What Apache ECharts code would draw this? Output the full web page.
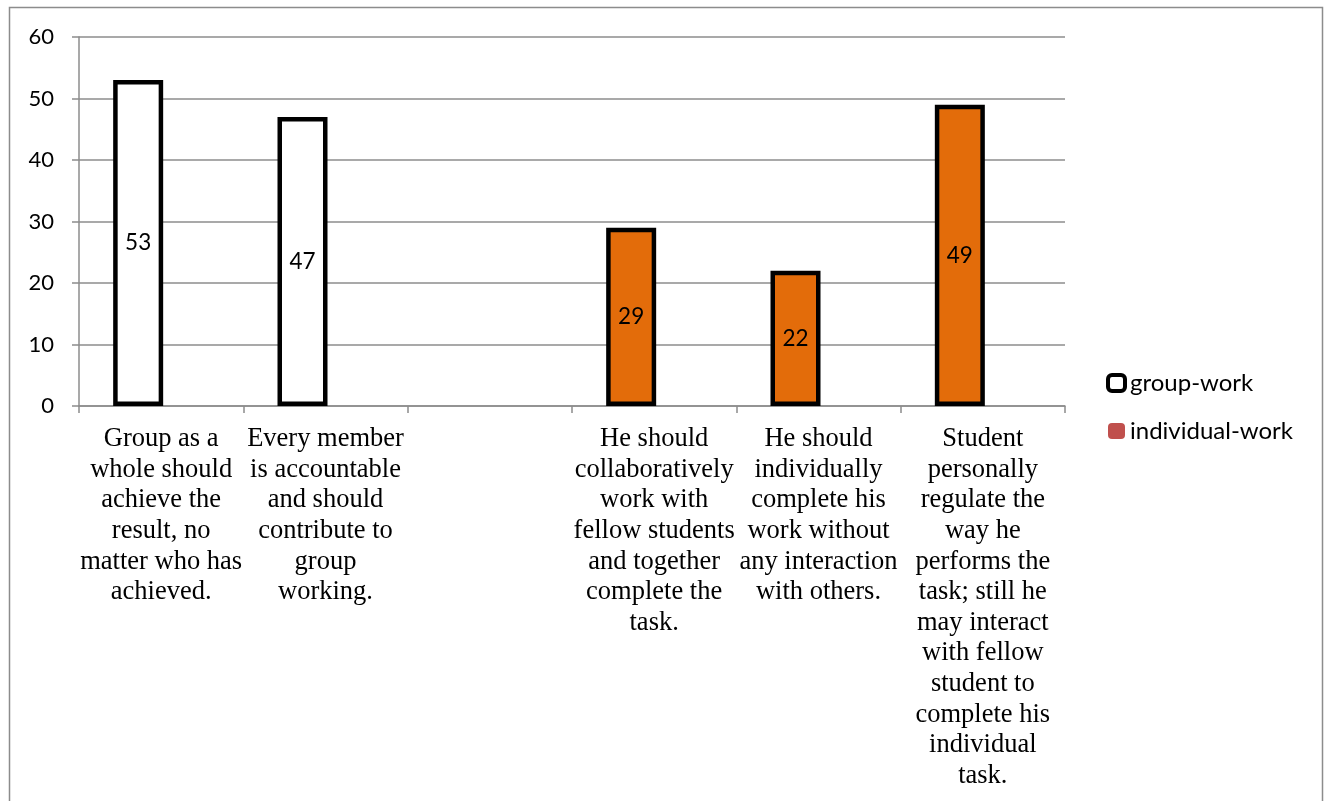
<!DOCTYPE html>
<html>
<head>
<meta charset="utf-8">
<script src="https://cdn.jsdelivr.net/npm/echarts@6/dist/echarts.min.js"></script>
<style>
  html, body { margin: 0; padding: 0; background: #fff; }
  #chart { width: 1329px; height: 801px; }
</style>
</head>
<body>
<div id="chart"></div>
<script>
// categories (line breaks as in the original chart)
const categories = [
    "Group as a\nwhole should\nachieve the\nresult, no\nmatter who has\nachieved.",
    "Every member\nis accountable\nand should\ncontribute to\ngroup\nworking.",
    "",
    "He should\ncollaboratively\nwork with\nfellow students\nand together\ncomplete the\ntask.",
    "He should\nindividually\ncomplete his\nwork without\nany interaction\nwith others.",
    "Student\npersonally\nregulate the\nway he\nperforms the\ntask; still he\nmay interact\nwith fellow\nstudent to\ncomplete his\nindividual\ntask."
];
const groupWork = [53, 47, "-", "-", "-", "-"];
const individualWork = ["-", "-", "-", 29, 22, 49];
const yTicks = { min: 0, max: 60, interval: 10 };

const chart = echarts.init(document.getElementById("chart"));

const barLabel = {
    show: true,
    position: "inside",
    color: "#000",
    fontFamily: "Lato",
    fontSize: 22.5,
};

chart.setOption({
    animation: false,
    backgroundColor: "#fff",
    graphic: [
        {
            type: "rect",
            shape: { x: 9.5, y: 7.5, width: 1313, height: 820 },
            style: { fill: "none", stroke: "#8c8c8c", lineWidth: 1.5 },
            silent: true,
        },
    ],
    grid: { left: 79, right: 264, top: 37, bottom: 395 },
    legend: {
        orient: "vertical",
        left: 1106,
        top: 371,
        padding: 0,
        itemWidth: 17,
        itemHeight: 16,
        itemGap: 24,
        textStyle: { fontFamily: "Lato", fontSize: 24, color: "#000" },
        data: [
            {
                name: "group-work",
                itemStyle: { color: "#fff", borderColor: "#000", borderWidth: 4 },
            },
            {
                name: "individual-work",
                itemStyle: { color: "#C0504D", borderWidth: 0 },
            },
        ],
    },
    xAxis: {
        type: "category",
        data: categories,
        axisLine: { lineStyle: { color: "#8c8c8c", width: 1.5 } },
        axisTick: { show: true, length: 7, lineStyle: { color: "#8c8c8c", width: 1.5 } },
        axisLabel: {
            interval: 0,
            margin: 18,
            color: "#000",
            fontFamily: "Liberation Serif",
            fontSize: 26.5,
            lineHeight: 30.6,
            align: "center",
        },
    },
    yAxis: {
        type: "value",
        min: yTicks.min,
        max: yTicks.max,
        interval: yTicks.interval,
        axisLine: { show: true, lineStyle: { color: "#8c8c8c", width: 1.5 } },
        axisTick: { show: true, length: 7, lineStyle: { color: "#8c8c8c", width: 1.5 } },
        splitLine: { lineStyle: { color: "#8c8c8c", width: 1.5 } },
        axisLabel: {
            margin: 25,
            color: "#000",
            fontFamily: "Lato",
            fontSize: 22,
        },
    },
    series: [
        {
            name: "group-work",
            type: "bar",
            stack: "all",
            barWidth: 50,
            barGap: "-8%",
            data: groupWork,
            itemStyle: { color: "#fff", borderColor: "#000", borderWidth: 4.5 },
            label: barLabel,
        },
        {
            name: "individual-work",
            type: "bar",
            stack: "all",
            barWidth: 50,
            data: individualWork,
            itemStyle: { color: "#E36C0A", borderColor: "#000", borderWidth: 4.5 },
            label: barLabel,
        },
        {
            // empty slot that pushes the bars left of centre, as in the original
            name: "spacer",
            type: "bar",
            barWidth: 50,
            data: [],
        },
    ],
});
</script>
</body>
</html>
